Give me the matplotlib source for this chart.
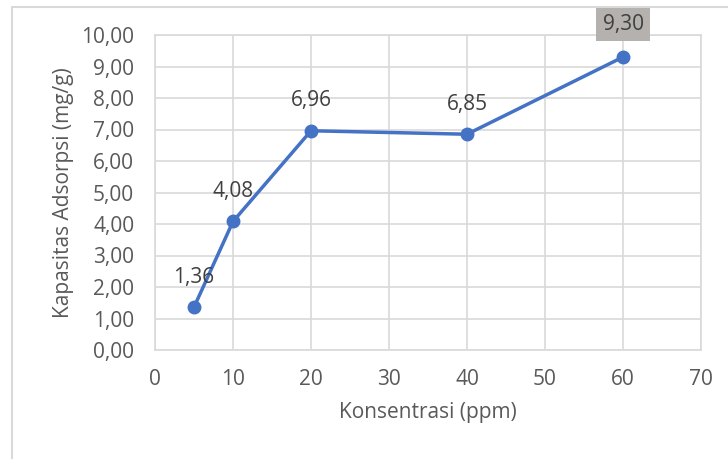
import matplotlib.pyplot as plt
from matplotlib.ticker import FuncFormatter, MultipleLocator
from matplotlib.patches import Rectangle

# data
konsentrasi = [5, 10, 20, 40, 60]
kapasitas = [1.36, 4.08, 6.96, 6.85, 9.30]
labels = ["1,36", "4,08", "6,96", "6,85", "9,30"]

plt.rcParams['font.family'] = ['Open Sans', 'DejaVu Sans']
grid_col = '#d9d9d9'
txt_col = '#595959'
fs = 15

fig = plt.figure(figsize=(7.28, 4.59), dpi=100)
ax = fig.add_axes([155 / 728, 1 - 350 / 459, 546 / 728, 315 / 459])

# chart border (only left and top show in the crop)
fig.patches.append(Rectangle((12 / 728, -0.1), 1.2, 1 - 7 / 459 + 0.1,
                             transform=fig.transFigure, fill=False,
                             edgecolor='#d9d9d9', linewidth=1.5))

ax.plot(konsentrasi, kapasitas, color='#4472c4', linewidth=2.5,
        marker='o', markersize=9, zorder=3)

for x, y, lab in zip(konsentrasi, kapasitas, labels):
    if lab == "9,30":
        ax.annotate(lab, (x, y), xytext=(0, 16), textcoords='offset points',
                    ha='center', va='bottom', fontsize=fs, color='#404040',
                    bbox=dict(boxstyle='square,pad=0.3', fc='#b5b1ae', ec='none'))
    else:
        ax.annotate(lab, (x, y), xytext=(0, 14), textcoords='offset points',
                    ha='center', va='bottom', fontsize=fs, color='#404040')

ax.set_xlim(0, 70)
ax.set_ylim(0, 10)
ax.xaxis.set_major_locator(MultipleLocator(10))
ax.yaxis.set_major_locator(MultipleLocator(1))
ax.yaxis.set_major_formatter(FuncFormatter(lambda v, p: f"{v:.2f}".replace('.', ',')))

ax.grid(True, color=grid_col, linewidth=1.2)
ax.set_axisbelow(True)
for s in ax.spines.values():
    s.set_color(grid_col)
    s.set_linewidth(1.2)
ax.tick_params(length=0, labelsize=fs, colors=txt_col)
ax.tick_params(axis='y', pad=15)
ax.tick_params(axis='x', pad=14)

ax.set_xlabel('Konsentrasi (ppm)', fontsize=fs, color=txt_col, labelpad=8)
ax.set_ylabel('Kapasitas Adsorpsi (mg/g)', fontsize=fs, color=txt_col, labelpad=5)

fig.savefig('out.png', dpi=100)
